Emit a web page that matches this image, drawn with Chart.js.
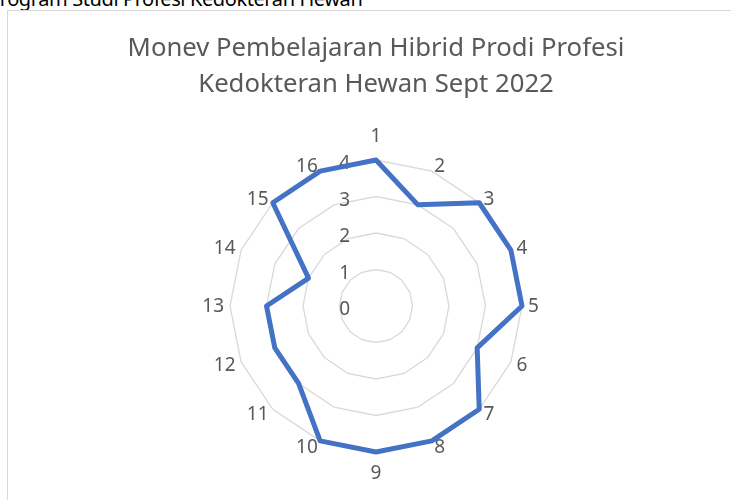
<!DOCTYPE html>
<html>
<head>
<meta charset="utf-8">
<script src="https://cdn.jsdelivr.net/npm/chart.js@4"></script>
<style>
  body { margin: 0; background: #fff; overflow: hidden; width: 731px; height: 500px; position: relative; }
  #head { position: absolute; left: -12px; top: -15px; font: 20px "Noto Sans", sans-serif; letter-spacing: -0.4px; color: #000; white-space: nowrap; }
  #box { position: absolute; left: 7px; top: 10px; width: 740px; height: 500px; border-top: 1px solid #d9d9d9; border-left: 1px solid #d9d9d9; }
  #wrap { position: absolute; left: 0; top: 0; width: 736px; height: 489px; }
</style>
</head>
<body>
<div id="head">Program Studi Profesi Kedokteran Hewan</div>
<div id="box">
  <div id="wrap"><canvas id="myChart"></canvas></div>
</div>
<script>
var labels = ["1", "2", "3", "4", "5", "6", "7", "8", "9", "10", "11", "12", "13", "14", "15", "16"];
var values = [4, 3, 4, 4, 4, 3, 4, 4, 4, 4, 3, 3, 3, 2, 4, 4];
var tickValues = [0, 1, 2, 3, 4];

var grey = "#595959";
var fontName = "'Noto Sans', sans-serif";

// Excel style labels: numbers left of the vertical axis, category names
// pushed out sideways from each spoke end
var excelLabels = {
  id: "excelLabels",
  beforeDatasetsDraw: function (chart) {
    var scale = chart.scales.r;
    var c = chart.ctx;
    c.save();
    c.font = "19px " + fontName;
    c.fillStyle = grey;
    c.textBaseline = "middle";

    c.textAlign = "right";
    tickValues.forEach(function (v) {
      var d = scale.getDistanceFromCenterForValue(v);
      c.fillText(String(v), scale.xCenter - 26, scale.yCenter - d + 4);
    });

    var n = labels.length;
    labels.forEach(function (lab, i) {
      var p = scale.getPointPosition(i, scale.drawingArea + 6);
      if (i == 0) {
        c.textAlign = "center";
        c.fillText(lab, p.x, p.y - 17);
      } else if (i == n / 2) {
        c.textAlign = "center";
        c.fillText(lab, p.x, p.y + 16);
      } else {
        c.textAlign = i < n / 2 ? "left" : "right";
        c.fillText(lab, p.x, p.y + 1);
      }
    });
    c.restore();
  },
};

var ctx = document.getElementById("myChart");

var myChart = new Chart(ctx, {
  type: "radar",
  data: {
    labels: labels,
    datasets: [
      {
        label: "Monev",
        data: values,
        borderColor: "#4472C4",
        backgroundColor: "transparent",
        borderWidth: 5,
        borderJoinStyle: "round",
        fill: false,
        pointRadius: 0,
        pointHoverRadius: 0,
        tension: 0,
      },
    ],
  },
  options: {
    responsive: true,
    maintainAspectRatio: false,
    animation: false,
    layout: { padding: { top: 0, bottom: 47, left: 0, right: 0 } },
    plugins: {
      legend: { display: false },
      tooltip: { enabled: false },
      title: {
        display: true,
        text: ["Monev Pembelajaran Hibrid Prodi Profesi", "Kedokteran Hewan Sept 2022"],
        color: grey,
        font: { family: fontName, size: 25.7, weight: "normal", lineHeight: 1.4 },
        padding: { top: 20, bottom: 57 },
      },
    },
    scales: {
      r: {
        min: 0,
        max: 4,
        ticks: { stepSize: 1, display: false },
        angleLines: { display: false },
        grid: { circular: false, color: "#d9d9d9", lineWidth: 1.3 },
        pointLabels: { display: false },
      },
    },
  },
  plugins: [excelLabels],
});
</script>
</body>
</html>
